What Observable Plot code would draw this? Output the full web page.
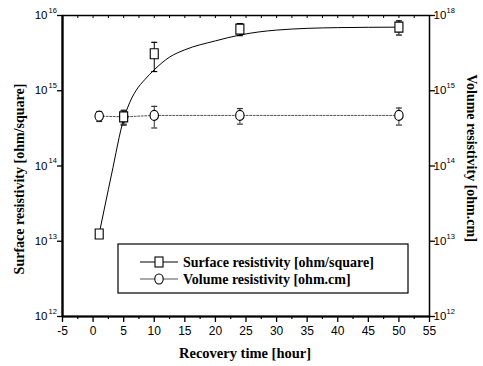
<!DOCTYPE html>
<html>
<head>
<meta charset="utf-8">
<script src="https://cdn.jsdelivr.net/npm/d3@7"></script>
<script src="https://cdn.jsdelivr.net/npm/@observablehq/plot@0.6"></script>
<style>
  html, body { margin: 0; padding: 0; background: #fff; }
  #chart { width: 483px; height: 366px; }
</style>
</head>
<body>
<div id="chart"></div>
<script>
// Measured recovery of resistivity after treatment
const hours = [1, 5, 10, 24, 50];
const surface = [1.25e13, 4.5e14, 3.1e15, 6.6e15, 7.0e15];      // ohm/square
const surfaceErr = [0.1e13, 1.0e14, 1.3e15, 1.2e15, 1.5e15];
const volume = [4.6e14, 4.5e14, 4.7e14, 4.7e14, 4.7e14];          // ohm.cm
const volumeErr = [0.7e14, 0.9e14, 1.5e14, 1.1e14, 1.2e14];

// Fitted growth curve for surface resistivity
const fitHours = [1, 3, 5, 6, 7, 8.5, 10, 12.5, 15, 20, 24, 30, 40, 50];
const fitSurface = [1.26e13, 7.6e13, 4.2e14, 7.0e14, 1.0e15, 1.42e15, 1.9e15, 2.8e15, 3.5e15, 4.6e15, 5.5e15, 6.4e15, 6.9e15, 7.0e15];

// Axis ticks and labels
const xTicks = [-5, 0, 5, 10, 15, 20, 25, 30, 35, 40, 45, 50, 55];
const xMinorTicks = [-2.5, 2.5, 7.5, 12.5, 17.5, 22.5, 27.5, 32.5, 37.5, 42.5, 47.5, 52.5];
const yTicks = [1e12, 1e13, 1e14, 1e15, 1e16];
const leftExponents = ["12", "13", "14", "15", "16"];
const rightExponents = ["12", "13", "14", "15", "18"];

const xTitle = "Recovery time [hour]";
const leftTitle = "Surface resistivity [ohm/square]";
const rightTitle = "Volume resistivity [ohm.cm]";
const legendLabels = ["Surface resistivity [ohm/square]", "Volume resistivity [ohm.cm]"];

const rows = hours.map((h, i) => ({
  hour: h,
  s: surface[i], sLo: surface[i] - surfaceErr[i], sHi: surface[i] + surfaceErr[i],
  v: volume[i], vLo: volume[i] - volumeErr[i], vHi: volume[i] + volumeErr[i]
}));
const fit = fitHours.map((h, i) => ({hour: h, s: fitSurface[i]}));
const yTickRows = yTicks.map((t, i) => ({t, left: leftExponents[i], right: rightExponents[i]}));

// Marker shapes (slightly tall boxes and ovals)
const rectSym = {draw(ctx) { ctx.moveTo(-4, -5); ctx.lineTo(4, -5); ctx.lineTo(4, 5); ctx.lineTo(-4, 5); ctx.closePath(); }};
const ovalSym = {draw(ctx) {
  const rx = 4.2, ry = 5, k = 0.5523;
  ctx.moveTo(rx, 0);
  ctx.bezierCurveTo(rx, k * ry, k * rx, ry, 0, ry);
  ctx.bezierCurveTo(-k * rx, ry, -rx, k * ry, -rx, 0);
  ctx.bezierCurveTo(-rx, -k * ry, -k * rx, -ry, 0, -ry);
  ctx.bezierCurveTo(k * rx, -ry, rx, -k * ry, rx, 0);
  ctx.closePath();
}};
const capSym = {draw(ctx) { ctx.moveTo(-3, 0); ctx.lineTo(3, 0); }};

const sans = "'Liberation Sans', Arial, sans-serif";
const serif = "'Liberation Serif', 'Times New Roman', serif";

const plot = Plot.plot({
  width: 483,
  height: 366,
  marginLeft: 62,
  marginRight: 54,
  marginTop: 15,
  marginBottom: 50,
  style: {background: "#fff", fontFamily: sans, color: "#000"},
  x: {domain: [-5, 55]},
  y: {type: "log", domain: [1e12, 1e16]},
  marks: [
    // bottom axis: major + minor ticks
    Plot.axisX({ticks: xTicks, tickSize: 6, tickPadding: 4, fontSize: 12, strokeWidth: 1.3, tickFormat: d => String(d), label: null}),
    Plot.axisX({ticks: xMinorTicks, tickSize: 3, strokeWidth: 1.2, tickFormat: () => "", label: null}),
    // top edge small inward ticks
    Plot.axisX({anchor: "top", ticks: xTicks.concat(xMinorTicks), tickSize: -2, strokeWidth: 1, tickFormat: () => "", label: null}),
    // left and right decade ticks
    Plot.axisY({ticks: yTicks, tickSize: 5, strokeWidth: 1.3, tickFormat: () => "", label: null}),
    Plot.axisY({anchor: "right", ticks: yTicks, tickSize: 5, strokeWidth: 1.3, tickFormat: () => "", label: null}),
    // decade labels as 10 with raised exponent
    Plot.text(yTickRows, {y: "t", frameAnchor: "left", text: () => "10", textAnchor: "end", dx: -15, fontSize: 11.5, fontFamily: sans}),
    Plot.text(yTickRows, {y: "t", frameAnchor: "left", text: "left", textAnchor: "start", dx: -14, dy: -5, fontSize: 7.5, fontFamily: sans}),
    Plot.text(yTickRows, {y: "t", frameAnchor: "right", text: () => "10", textAnchor: "start", dx: 4, fontSize: 11.5, fontFamily: sans}),
    Plot.text(yTickRows, {y: "t", frameAnchor: "right", text: "right", textAnchor: "start", dx: 17, dy: -5, fontSize: 7.5, fontFamily: sans}),
    // frame
    Plot.frame({stroke: "#000", strokeWidth: 1.5}),
    Plot.ruleX([-5], {stroke: "#000", strokeWidth: 2.2}),
    Plot.ruleY([1e12], {stroke: "#000", strokeWidth: 2.2}),
    // fitted surface curve
    Plot.line(fit, {x: "hour", y: "s", curve: "monotone-x", stroke: "#000", strokeWidth: 1}),
    // volume resistivity connector
    Plot.line(rows, {x: "hour", y: "v", stroke: "#555", strokeWidth: 1, strokeDasharray: "2,1.5"}),
    // error bars
    Plot.ruleX(rows, {x: "hour", y1: "sLo", y2: "sHi", stroke: "#000", strokeWidth: 1}),
    Plot.dot(rows, {x: "hour", y: "sHi", symbol: capSym, stroke: "#000", fill: "none", strokeWidth: 1.2}),
    Plot.dot(rows, {x: "hour", y: "sLo", symbol: capSym, stroke: "#000", fill: "none", strokeWidth: 1.2}),
    Plot.ruleX(rows, {x: "hour", y1: "vLo", y2: "vHi", stroke: "#333", strokeWidth: 1}),
    Plot.dot(rows, {x: "hour", y: "vHi", symbol: capSym, stroke: "#333", fill: "none", strokeWidth: 1.2}),
    Plot.dot(rows, {x: "hour", y: "vLo", symbol: capSym, stroke: "#333", fill: "none", strokeWidth: 1.2}),
    // markers
    Plot.dot(rows, {x: "hour", y: "v", symbol: ovalSym, stroke: "#000", fill: "#fff", strokeWidth: 1.1}),
    Plot.dot(rows, {x: "hour", y: "s", symbol: rectSym, stroke: "#000", fill: "#fff", strokeWidth: 1.1})
  ]
});

const svg = d3.select(plot);

// axis titles
svg.append("text")
  .attr("x", 245).attr("y", 358)
  .attr("text-anchor", "middle")
  .attr("font-family", serif).attr("font-weight", "bold").attr("font-size", 14.5)
  .attr("fill", "#000")
  .text(xTitle);
svg.append("text")
  .attr("transform", "translate(19,179) rotate(-90)")
  .attr("text-anchor", "middle").attr("dominant-baseline", "central")
  .attr("font-family", serif).attr("font-weight", "bold").attr("font-size", 14)
  .attr("fill", "#000")
  .text(leftTitle);
svg.append("text")
  .attr("transform", "translate(471,158) rotate(90)")
  .attr("text-anchor", "middle").attr("dominant-baseline", "central")
  .attr("font-family", serif).attr("font-weight", "bold").attr("font-size", 14)
  .attr("fill", "#000")
  .text(rightTitle);

// legend box
const lg = svg.append("g");
lg.append("rect").attr("x", 118).attr("y", 244).attr("width", 290).attr("height", 49)
  .attr("fill", "#fff").attr("stroke", "#000").attr("stroke-width", 1.2);
const legendRows = [
  {y: 262, label: legendLabels[0], stroke: "#000", shape: "rect"},
  {y: 279, label: legendLabels[1], stroke: "#555", shape: "oval"}
];
legendRows.forEach(r => {
  lg.append("line").attr("x1", 140).attr("x2", 178).attr("y1", r.y).attr("y2", r.y)
    .attr("stroke", r.stroke).attr("stroke-width", 1);
  if (r.shape === "rect") {
    lg.append("rect").attr("x", 155).attr("y", r.y - 5).attr("width", 8).attr("height", 10)
      .attr("fill", "#fff").attr("stroke", "#000").attr("stroke-width", 1.1);
  } else {
    lg.append("ellipse").attr("cx", 159).attr("cy", r.y).attr("rx", 4.2).attr("ry", 5)
      .attr("fill", "#fff").attr("stroke", "#000").attr("stroke-width", 1.1);
  }
  lg.append("text").attr("x", 183).attr("y", r.y)
    .attr("text-anchor", "start").attr("dominant-baseline", "central")
    .attr("font-family", serif).attr("font-weight", "bold").attr("font-size", 14)
    .attr("fill", "#000").text(r.label);
});

document.getElementById("chart").appendChild(plot);
</script>
</body>
</html>
